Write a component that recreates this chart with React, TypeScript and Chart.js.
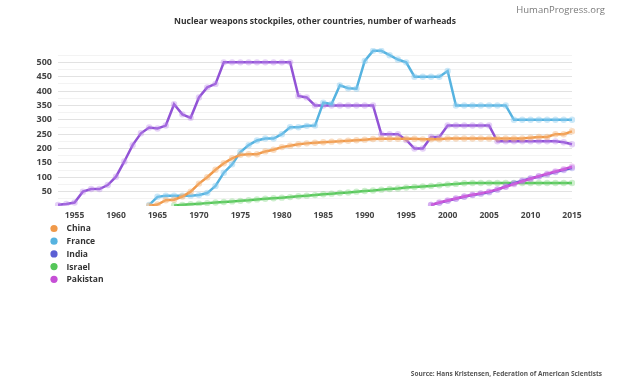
import React, { useEffect, useRef } from "react";
import { Chart, registerables } from "chart.js";

Chart.register(...registerables);

const years = [
  1953, 1954, 1955, 1956, 1957, 1958, 1959, 1960, 1961, 1962, 1963, 1964, 1965,
  1966, 1967, 1968, 1969, 1970, 1971, 1972, 1973, 1974, 1975, 1976, 1977, 1978,
  1979, 1980, 1981, 1982, 1983, 1984, 1985, 1986, 1987, 1988, 1989, 1990, 1991,
  1992, 1993, 1994, 1995, 1996, 1997, 1998, 1999, 2000, 2001, 2002, 2003, 2004,
  2005, 2006, 2007, 2008, 2009, 2010, 2011, 2012, 2013, 2014, 2015,
];

// China, from 1964
const chinaStart = 1964;
const chinaValues = [
  1, 5, 20, 22, 33, 50, 78, 100, 126, 149, 166, 178, 180, 180, 190, 196, 205,
  210, 215, 218, 220, 222, 224, 225, 227, 229, 231, 233, 234, 234, 234, 234,
  234, 232, 232, 232, 235, 235, 235, 235, 235, 235, 235, 235, 235, 235, 238,
  240, 240, 250, 250, 260,
];

// France, from 1964
const franceStart = 1964;
const franceValues = [
  4, 32, 36, 36, 36, 36, 38, 45, 70, 116, 145, 188, 212, 228, 235, 235, 250,
  274, 274, 279, 280, 360, 355, 420, 410, 408, 505, 540, 540, 525, 510, 500,
  450, 450, 450, 450, 470, 350, 350, 350, 350, 350, 350, 350, 300, 300, 300,
  300, 300, 300, 300, 300,
];

// India, from 1998
const indiaStart = 1998;
const indiaValues = [
  4, 11, 18, 25, 32, 38, 43, 48, 57, 68, 79, 88, 96, 103, 110, 118, 125, 132,
];

// Israel, from 1967
const israelStart = 1967;
const israelValues = [
  2, 4, 6, 8, 10, 12, 14, 16, 18, 20, 23, 25, 27, 29, 31, 34, 36, 38, 41, 43,
  45, 47, 50, 52, 54, 57, 59, 61, 64, 66, 68, 70, 72, 75, 77, 79, 80, 80, 80,
  80, 80, 80, 80, 80, 80, 80, 80, 80, 80,
];

// Pakistan, from 1998
const pakistanStart = 1998;
const pakistanValues = [
  4, 12, 19, 26, 33, 39, 44, 50, 58, 67, 76, 86, 95, 104, 112, 120, 128, 137,
];

// Purple series drawn without a legend entry (United Kingdom), from 1953
const ukStart = 1953;
const ukValues = [
  4, 7, 12, 50, 59, 59, 73, 102, 155, 212, 253, 273, 270, 280, 354, 319, 307,
  378, 413, 425, 500, 500, 500, 500, 500, 500, 500, 500, 500, 383, 378, 350,
  350, 350, 350, 350, 350, 350, 350, 250, 250, 250, 230, 200, 200, 240, 240,
  280, 280, 280, 280, 280, 280, 225, 225, 225, 225, 225, 225, 225, 225, 222,
  215,
];

const legendNames = ["China", "France", "India", "Israel", "Pakistan"];
const titleText = "Nuclear weapons stockpiles, other countries, number of warheads";
const brandText = "HumanProgress.org";
const sourceText = "Source: Hans Kristensen, Federation of American Scientists";

const toRow = (start: number, values: number[]) =>
  years.map((y) => (y >= start && y - start < values.length ? values[y - start] : null));

const FONT = '"Open Sans", "DejaVu Sans", sans-serif';

const textPlugin = {
  id: "extraText",
  afterDraw(chart: any) {
    const ctx = chart.ctx as CanvasRenderingContext2D;
    ctx.save();
    ctx.textBaseline = "middle";

    ctx.font = `9.5px ${FONT}`;
    ctx.fillStyle = "#7a7a7a";
    ctx.textAlign = "right";
    ctx.fillText(brandText, 605, 10);

    ctx.font = `bold 8.5px ${FONT}`;
    ctx.fillStyle = "#333333";
    ctx.textAlign = "center";
    ctx.fillText(titleText, 315, 22);

    // legend (vertical, below the x axis)
    const ds = chart.data.datasets;
    let row = 0;
    ds.forEach((d: any) => {
      if (!legendNames.includes(d.label)) return;
      const y = 228.5 + row * 12.7;
      ctx.beginPath();
      ctx.fillStyle = d.borderColor;
      ctx.arc(54, y, 3.6, 0, Math.PI * 2);
      ctx.fill();
      ctx.font = `bold 8.5px ${FONT}`;
      ctx.fillStyle = "#333333";
      ctx.textAlign = "left";
      ctx.fillText(d.label, 66.5, y + 0.5);
      row++;
    });

    ctx.font = `bold 6.5px ${FONT}`;
    ctx.fillStyle = "#555555";
    ctx.textAlign = "right";
    ctx.fillText(sourceText, 602, 374);
    ctx.restore();
  },
};

const series = [
  { label: "Pakistan", start: pakistanStart, values: pakistanValues, color: "#c64fd6", point: "rgba(214,120,230,0.4)", order: 0 },
  { label: "India", start: indiaStart, values: indiaValues, color: "#5b5fd4", point: "rgba(130,120,235,0.35)", order: 1 },
  { label: "Israel", start: israelStart, values: israelValues, color: "#55c659", point: "rgba(130,215,130,0.4)", order: 2 },
  { label: "China", start: chinaStart, values: chinaValues, color: "#f0994a", point: "rgba(245,180,120,0.45)", order: 3 },
  { label: "France", start: franceStart, values: franceValues, color: "#56b3e0", point: "rgba(140,205,240,0.45)", order: 4 },
  { label: "United Kingdom", start: ukStart, values: ukValues, color: "#9253d6", point: "rgba(190,140,235,0.4)", order: 5 },
];

export default function App() {
  const ref = useRef<HTMLCanvasElement | null>(null);

  useEffect(() => {
    if (!ref.current) return;
    const legendOrder = ["China", "France", "India", "Israel", "Pakistan", "United Kingdom"];
    const datasets = legendOrder.map((name) => {
      const s = series.find((x) => x.label === name)!;
      return {
        label: s.label,
        data: toRow(s.start, s.values),
        borderColor: s.color,
        backgroundColor: s.color,
        pointBackgroundColor: s.point,
        pointBorderWidth: 0,
        pointRadius: 3.2,
        pointHoverRadius: 3.2,
        borderWidth: 2.5,
        tension: 0,
        fill: false,
        spanGaps: false,
        order: s.order,
      };
    });

    const chart = new Chart(ref.current, {
      type: "line",
      data: { labels: years.map(String), datasets },
      options: {
        responsive: false,
        animation: false,
        devicePixelRatio: 1,
        layout: { padding: { left: 36, right: 52, top: 48, bottom: 162 } },
        plugins: {
          legend: { display: false },
          title: { display: false },
          tooltip: { enabled: false },
        },
        scales: {
          x: {
            type: "category",
            offset: false,
            grid: { display: false, drawTicks: false },
            border: { display: false },
            afterFit: (s: any) => {
              s.height = 18;
            },
            ticks: {
              autoSkip: false,
              maxRotation: 0,
              padding: 4,
              color: "#444444",
              font: { family: FONT, size: 8.5, weight: "bold" },
              callback: (_v: any, i: number) => (years[i] % 5 === 0 ? String(years[i]) : ""),
            },
          },
          y: {
            min: 0,
            max: 550,
            afterFit: (s: any) => {
              s.width = 22;
            },
            border: { display: false },
            grid: {
              drawTicks: false,
              lineWidth: 1,
              color: (c: any) => {
                const v = c.tick ? c.tick.value : 0;
                if (v === 0 || v === 550) return "rgba(0,0,0,0)";
                return v % 50 === 0 ? "#e2e2e2" : "#f3f3f3";
              },
            },
            ticks: {
              stepSize: 25,
              autoSkip: false,
              padding: 6,
              color: "#444444",
              font: { family: FONT, size: 9, weight: "bold" },
              callback: (v: any) => {
                const n = Number(v);
                return n % 50 === 0 && n >= 50 && n <= 500 ? String(n) : "";
              },
            },
          },
        },
      },
      plugins: [textPlugin],
    });
    return () => chart.destroy();
  }, []);

  return (
    <div style={{ position: "fixed", left: 0, top: 0, width: 624, height: 386, background: "#ffffff" }}>
      <canvas ref={ref} width={624} height={386} style={{ display: "block", width: 624, height: 386 }} />
    </div>
  );
}
